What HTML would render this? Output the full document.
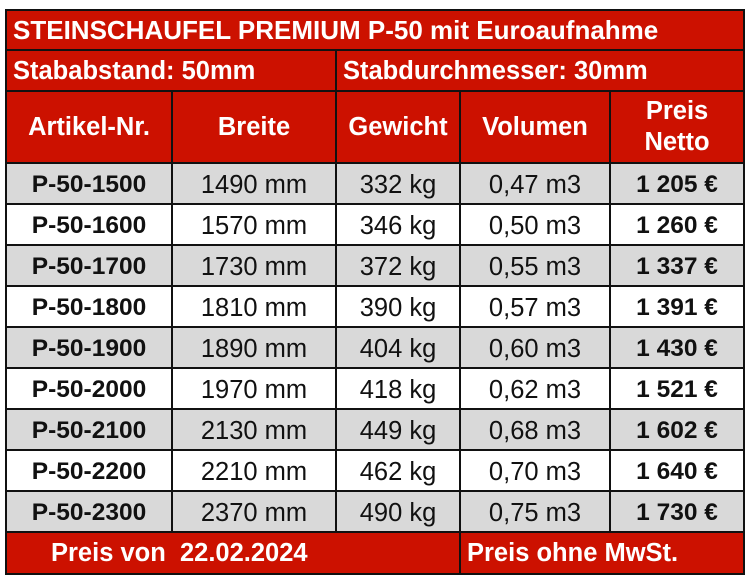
<!DOCTYPE html>
<html><head><meta charset="utf-8"><style>
body{margin:0;width:749px;height:578px;background:#fff;font-family:"Liberation Sans",Arial,sans-serif;overflow:hidden;position:relative}
table{position:absolute;left:5px;top:9px;border-collapse:collapse;width:738px;table-layout:fixed}
td{border:2px solid #111;padding:0;text-align:center;font-size:25.5px;color:#111;overflow:hidden;white-space:nowrap;line-height:28px}
.r{background:#cc1100;color:#fff;font-weight:bold;font-size:25.5px}
.l{text-align:left;padding-left:6px}
.g td{background:#d9d9d9}
.d td{padding-top:3px}
.b{font-weight:bold;font-size:24.5px}
tr{height:41px}
</style></head><body>
<table>
<colgroup><col style="width:166px"><col style="width:164px"><col style="width:124px"><col style="width:150px"><col style="width:134px"></colgroup>
<tr style="height:40px"><td class="r l" colspan="5" style="font-size:26px">STEINSCHAUFEL PREMIUM P-50 mit Euroaufnahme</td></tr>
<tr><td class="r l" colspan="2">Stababstand: 50mm</td><td class="r l" colspan="3">Stabdurchmesser: 30mm</td></tr>
<tr style="height:72px"><td class="r">Artikel-Nr.</td><td class="r">Breite</td><td class="r">Gewicht</td><td class="r">Volumen</td><td class="r" style="line-height:31px">Preis<br>Netto</td></tr>
<tr class="g d"><td class="b">P-50-1500</td><td>1490 mm</td><td>332 kg</td><td>0,47 m3</td><td class="b">1 205 €</td></tr>
<tr class="d"><td class="b">P-50-1600</td><td>1570 mm</td><td>346 kg</td><td>0,50 m3</td><td class="b">1 260 €</td></tr>
<tr class="g d"><td class="b">P-50-1700</td><td>1730 mm</td><td>372 kg</td><td>0,55 m3</td><td class="b">1 337 €</td></tr>
<tr class="d"><td class="b">P-50-1800</td><td>1810 mm</td><td>390 kg</td><td>0,57 m3</td><td class="b">1 391 €</td></tr>
<tr class="g d"><td class="b">P-50-1900</td><td>1890 mm</td><td>404 kg</td><td>0,60 m3</td><td class="b">1 430 €</td></tr>
<tr class="d"><td class="b">P-50-2000</td><td>1970 mm</td><td>418 kg</td><td>0,62 m3</td><td class="b">1 521 €</td></tr>
<tr class="g d"><td class="b">P-50-2100</td><td>2130 mm</td><td>449 kg</td><td>0,68 m3</td><td class="b">1 602 €</td></tr>
<tr class="d"><td class="b">P-50-2200</td><td>2210 mm</td><td>462 kg</td><td>0,70 m3</td><td class="b">1 640 €</td></tr>
<tr class="g d"><td class="b">P-50-2300</td><td>2370 mm</td><td>490 kg</td><td>0,75 m3</td><td class="b">1 730 €</td></tr>
<tr style="height:42px"><td class="r" colspan="3" style="text-align:left;padding-left:44px">Preis von&nbsp; 22.02.2024</td><td class="r l" colspan="2">Preis ohne MwSt.</td></tr>
</table>
</body></html>
